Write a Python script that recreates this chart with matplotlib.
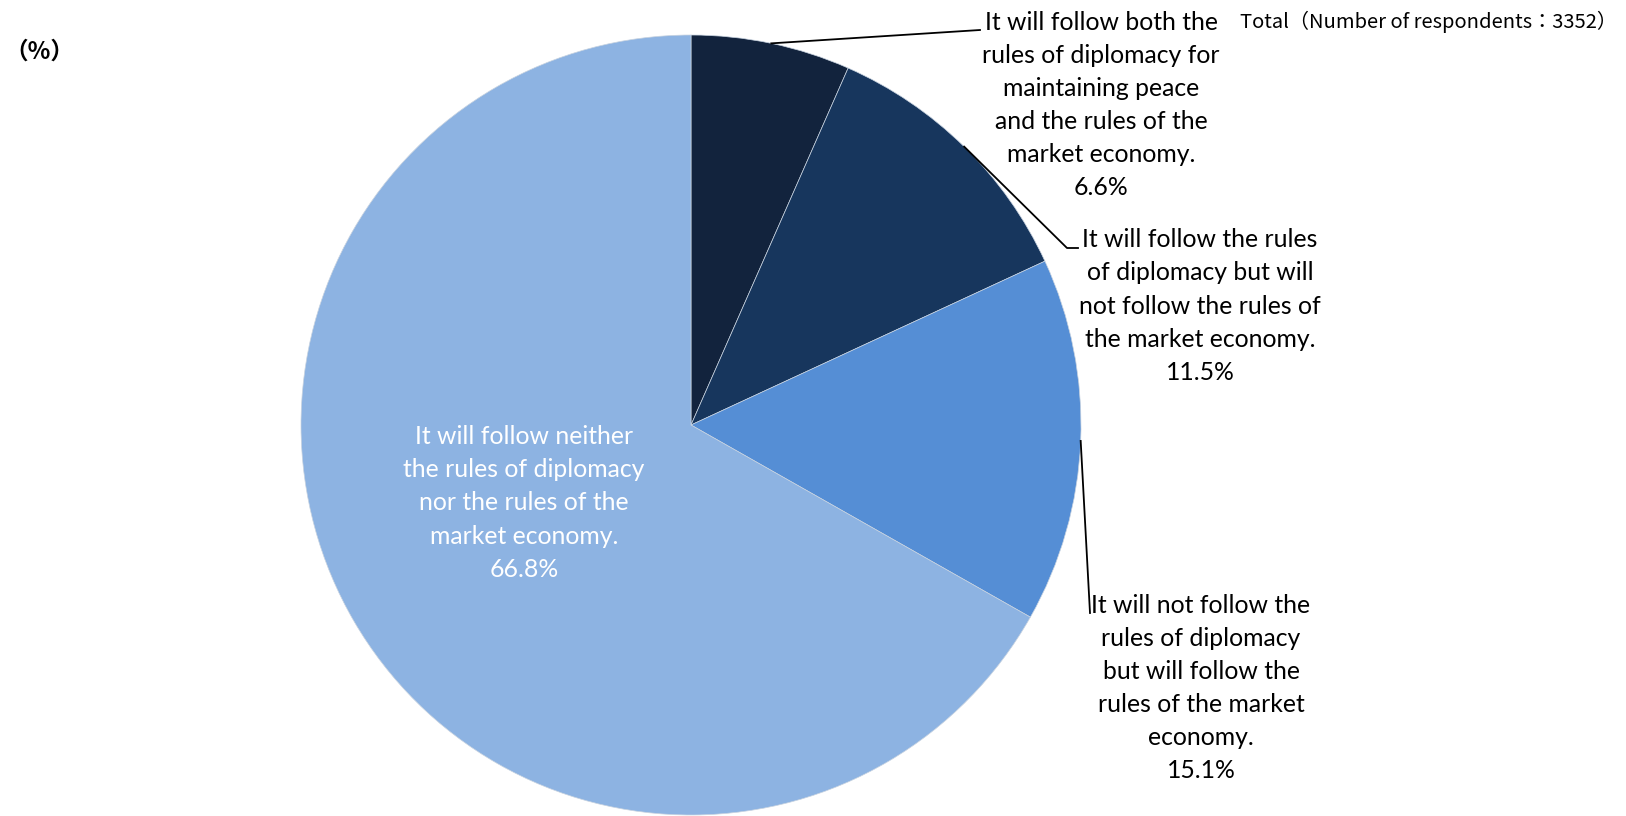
import numpy as np
import matplotlib.pyplot as plt

# Data
labels = [
    "It will follow both the\nrules of diplomacy for\nmaintaining peace\nand the rules of the\nmarket economy.",
    "It will follow the rules\nof diplomacy but will\nnot follow the rules of\nthe market economy.",
    "It will not follow the\nrules of diplomacy\nbut will follow the\nrules of the market\neconomy.",
    "It will follow neither\nthe rules of diplomacy\nnor the rules of the\nmarket economy.",
]
shares = [6.6, 11.5, 15.1, 66.8]
colors = ["#12233D", "#17365D", "#558ED5", "#8DB3E2"]

W, H = 1626, 816
fig = plt.figure(figsize=(W / 100, H / 100), dpi=100)

# pie centre and radius in pixels
cx, cy, r = 691, 425, 390
ax = fig.add_axes([(cx - r) / W, (H - cy - r) / H, 2 * r / W, 2 * r / H])

wedges, _ = ax.pie(shares, colors=colors, startangle=90, counterclock=False,
                   radius=1, wedgeprops=dict(edgecolor="#C8D3E0", linewidth=0.5))
ax.set_xlim(-1, 1)
ax.set_ylim(-1, 1)
ax.axis("off")


def px(x, y):
    # figure pixel (from top-left) -> data coords
    return ((x - cx) / r, (cy - y) / r)


font = "Lato"
fs = 17.8
ls = 1.53

# label positions (text centre, leader end) in pixels
label_pos = [(1101, 105), (1200, 306), (1201, 688)]
leader_end = [[(980, 30)], [(1067, 248), (1078, 248)], [(1090, 613)]]

for i in range(3):
    w = wedges[i]
    mid = np.deg2rad((w.theta1 + w.theta2) / 2)
    x0, y0 = np.cos(mid), np.sin(mid)
    pts = [(x0, y0)] + [px(*p) for p in leader_end[i]]
    xs, ys = zip(*pts)
    ax.plot(xs, ys, color="black", lw=1.3, clip_on=False)
    tx, ty = px(*label_pos[i])
    ax.text(tx, ty, f"{labels[i]}\n{shares[i]}%", ha="center", va="center",
            fontsize=fs, family=font, linespacing=ls, color="black")

tx, ty = px(524, 503)
ax.text(tx, ty, f"{labels[3]}\n{shares[3]}%", ha="center", va="center",
        fontsize=fs, family=font, linespacing=ls, color="white")

fig.text(1617 / W, 1 - 22 / H, "Total（Number of respondents：3352）", ha="right",
         va="center", fontsize=14.5, family=["Noto Sans CJK JP", "DejaVu Sans"])
fig.text(4 / W, 1 - 52 / H, "（%）", ha="left", va="center", fontsize=17,
         fontweight="bold", family=["Noto Sans CJK JP", "DejaVu Sans"])

fig.savefig("out.png", dpi=100, facecolor="white")
